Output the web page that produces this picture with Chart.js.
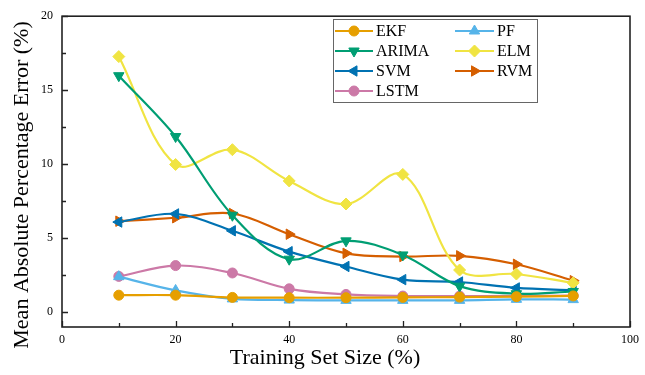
<!DOCTYPE html>
<html>
<head>
<meta charset="utf-8">
<script src="https://cdn.jsdelivr.net/npm/chart.js@4.4.0/dist/chart.umd.min.js"></script>
<style>
html, body { margin: 0; padding: 0; background: #fff; }
#wrap { width: 645px; height: 375px; }
</style>
</head>
<body>
<div id="wrap"><canvas id="graphCanvas"></canvas></div>
<script>
// training set size (%)
var sizes = [10, 20, 30, 40, 50, 60, 70, 80, 90];

// MAPE (%) per method
var ekf   = [1.15, 1.15, 1.0, 0.98, 0.98, 1.0, 1.02, 1.05, 1.1];
var pf    = [2.4, 1.47, 0.9, 0.82, 0.8, 0.8, 0.8, 0.87, 0.85];
var arima = [15.98, 11.87, 6.55, 3.58, 4.82, 3.87, 1.76, 1.25, 1.4];
var elm   = [17.27, 9.98, 10.98, 8.87, 7.31, 9.31, 2.85, 2.58, 1.98];
var svm   = [6.09, 6.64, 5.5, 4.09, 3.09, 2.2, 2.04, 1.64, 1.49];
var rvm   = [6.15, 6.38, 6.67, 5.27, 3.98, 3.76, 3.81, 3.24, 2.13];
var lstm  = [2.42, 3.15, 2.65, 1.58, 1.2, 1.09, 1.09, 1.1, 1.12];

var xTicks = [0, 10, 20, 30, 40, 50, 60, 70, 80, 90, 100];
var xLabels = [0, 20, 40, 60, 80, 100];
var yTicks = [0, 2.5, 5, 7.5, 10, 12.5, 15, 17.5, 20];
var yLabels = [0, 5, 10, 15, 20];

var serif = "'Liberation Serif', 'Times New Roman', serif";

function pts(vals) {
    var out = [];
    for (var i in sizes) {
        out.push({ x: sizes[i], y: vals[i] });
    }
    return out;
}

function series(label, vals, color, style, rot, r) {
    return {
        label: label,
        data: pts(vals),
        borderColor: color,
        backgroundColor: color,
        pointBackgroundColor: color,
        pointBorderColor: color,
        pointStyle: style,
        pointRotation: rot,
        pointRadius: r,
        pointBorderWidth: 1,
        borderWidth: 2.2,
        tension: 0.35
    };
}

var datasets = [
    series('EKF', ekf, '#E69F00', 'circle', 0, 5),
    series('PF', pf, '#56B4E9', 'triangle', 0, 6),
    series('ARIMA', arima, '#009E73', 'triangle', 180, 6),
    series('ELM', elm, '#F0E442', 'rectRot', 0, 6),
    series('SVM', svm, '#0072B2', 'triangle', -90, 6),
    series('RVM', rvm, '#D55E00', 'triangle', 90, 6),
    series('LSTM', lstm, '#CC79A7', 'circle', 0, 5)
];

// legend layout: two columns like the original figure
var legendRows = [['EKF', 'PF'], ['ARIMA', 'ELM'], ['SVM', 'RVM'], ['LSTM', null]];

var framePlugin = {
    id: 'frame',
    afterDraw: function (chart) {
        var ctx = chart.ctx;
        var a = chart.chartArea;
        var xs = chart.scales.x, ys = chart.scales.y;
        ctx.save();

        // inward ticks
        ctx.strokeStyle = '#222';
        ctx.lineWidth = 1.3;
        ctx.beginPath();
        xTicks.forEach(function (v) {
            var px = Math.round(xs.getPixelForValue(v)) + 0.5;
            var len = xLabels.indexOf(v) >= 0 ? 6 : 4;
            ctx.moveTo(px, a.bottom);
            ctx.lineTo(px, a.bottom - len);
        });
        yTicks.forEach(function (v) {
            var py = Math.round(ys.getPixelForValue(v)) + 0.5;
            var len = yLabels.indexOf(v) >= 0 ? 6 : 4;
            ctx.moveTo(a.left, py);
            ctx.lineTo(a.left + len, py);
        });
        ctx.stroke();

        // frame
        ctx.strokeStyle = '#222';
        ctx.lineWidth = 1.6;
        ctx.strokeRect(a.left, a.top, a.right - a.left, a.bottom - a.top);

        // axis titles
        ctx.fillStyle = '#000';
        ctx.font = '22px ' + serif;
        ctx.textAlign = 'center';
        ctx.textBaseline = 'middle';
        ctx.fillText('Training Set Size (%)', 325, 358);
        ctx.save();
        ctx.translate(22, 185);
        ctx.rotate(-Math.PI / 2);
        ctx.fillText('Mean Absolute Percentage Error (%)', 0, 0);
        ctx.restore();

        // legend
        ctx.fillStyle = '#fff';
        ctx.fillRect(333, 19, 204, 83);
        ctx.strokeStyle = '#666';
        ctx.lineWidth = 1;
        ctx.strokeRect(333.5, 19.5, 204, 83);
        var cols = [{ x0: 335, x1: 373, tx: 376 }, { x0: 455, x1: 494, tx: 497 }];
        ctx.font = '16px ' + serif;
        ctx.textAlign = 'left';
        legendRows.forEach(function (row, r) {
            var y = 31 + r * 20;
            row.forEach(function (name, c) {
                if (!name) return;
                var ds = datasets.filter(function (d) { return d.label === name; })[0];
                var col = cols[c];
                ctx.strokeStyle = ds.borderColor;
                ctx.fillStyle = ds.borderColor;
                ctx.lineWidth = 2.2;
                ctx.beginPath();
                ctx.moveTo(col.x0, y);
                ctx.lineTo(col.x1, y);
                ctx.stroke();
                ctx.lineWidth = 1;
                Chart.helpers.drawPoint(ctx, {
                    pointStyle: ds.pointStyle,
                    rotation: ds.pointRotation,
                    radius: ds.pointRadius,
                    borderWidth: 1
                }, (col.x0 + col.x1) / 2, y);
                ctx.fillStyle = '#000';
                ctx.fillText(name, col.tx, y + 1);
            });
        });
        ctx.restore();
    }
};

var graphTarget = document.getElementById('graphCanvas');

var lineGraph = new Chart(graphTarget, {
    type: 'line',
    data: { datasets: datasets },
    options: {
        responsive: true,
        maintainAspectRatio: false,
        animation: false,
        layout: { padding: { top: 13, right: 9, left: 0, bottom: 0 } },
        plugins: {
            legend: { display: false },
            tooltip: { enabled: false }
        },
        scales: {
            x: {
                type: 'linear',
                min: 0,
                max: 100,
                grid: { display: false, drawTicks: false },
                border: { display: false },
                afterBuildTicks: function (scale) {
                    scale.ticks = xTicks.map(function (v) { return { value: v }; });
                },
                afterFit: function (scale) { scale.height = 48; },
                ticks: {
                    padding: 6,
                    maxRotation: 0,
                    autoSkip: false,
                    color: '#000',
                    font: { family: serif, size: 12 },
                    callback: function (v) { return xLabels.indexOf(v) >= 0 ? v : ''; }
                }
            },
            y: {
                min: -1,
                max: 20,
                grid: { display: false, drawTicks: false },
                border: { display: false },
                afterBuildTicks: function (scale) {
                    scale.ticks = yTicks.map(function (v) { return { value: v }; });
                },
                afterFit: function (scale) { scale.width = 62; },
                ticks: {
                    padding: 9,
                    autoSkip: false,
                    color: '#000',
                    font: { family: serif, size: 12 },
                    callback: function (v) { return yLabels.indexOf(v) >= 0 ? v : ''; }
                }
            }
        }
    },
    plugins: [framePlugin]
});
</script>
</body>
</html>
